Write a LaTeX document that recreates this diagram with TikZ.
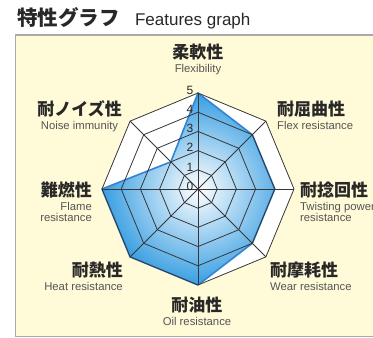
\documentclass[tikz,border=0pt]{standalone}
\usepackage{fontspec}
\setmainfont{Liberation Sans}
\newfontfamily\jp{Noto Sans CJK JP}
\usetikzlibrary{positioning}
\definecolor{panelbg}{RGB}{255,250,215}
\definecolor{panelborder}{RGB}{170,170,170}
\definecolor{webgray}{RGB}{55,55,55}
\definecolor{polyblue}{RGB}{55,158,226}
\definecolor{polyline}{RGB}{52,132,212}
\definecolor{jptext}{RGB}{40,40,40}
\definecolor{entext}{RGB}{85,85,85}
\tikzset{
    %Define style for japanese labels
    jplabel/.style={
           inner sep=0pt,
           text=jptext,
           font=\jp\bfseries\fontsize{17}{17}\selectfont},
    %Define style for english labels
    enlabel/.style={
           inner sep=0pt,
           text=entext,
           font=\fontsize{11.3}{11}\selectfont},
    ticklabel/.style={
           inner sep=0pt,
           text=jptext,
           font=\fontsize{12}{12}\selectfont},
    % Define line styles
    webline/.style={
           draw=webgray,
           line width=0.8pt,
           line join=miter},
    dataline/.style={
           draw=polyline,
           line width=1.6pt,
           line join=round}
}
\begin{document}
\begin{tikzpicture}[x=1pt,y=1pt]
\useasboundingbox (-198,-149) rectangle (175,189);
 %panel
\draw[fill=panelbg, draw=panelborder, line width=1.2pt] (-182.5,154) rectangle (190,-147.5);

\coordinate (c) at (0,0);
\foreach \a [count=\i] in {90,45,0,-45,-90,-135,180,135}
    \coordinate (v\i) at (\a:96);
\foreach \a/\v [count=\i] in {90/5,45/4,0/4,-45/4,-90/5,-135/5,180/5,135/2}
    \coordinate (d\i) at (\a:{\v*19.2});

 %white web and data area
\fill[white] (v1) \foreach \i in {2,...,8}{ -- (v\i)} -- cycle;
\begin{scope}
\clip (d1) \foreach \i in {2,...,8}{ -- (d\i)} -- cycle;
\shade[inner color=white, outer color=polyblue] (c) circle (96);
\end{scope}
\draw[dataline] (d1) \foreach \i in {2,...,8}{ -- (d\i)} -- cycle;

 %rings and spokes
\foreach \r in {1,...,5}
    \draw[webline] (90:{\r*19.2}) \foreach \a in {45,0,-45,-90,-135,180,135}{ -- (\a:{\r*19.2})} -- cycle;
\foreach \i in {1,...,8}
    \draw[webline] (c) -- (v\i);
\foreach \r in {0,...,5}
    \node[ticklabel] (t\r) at (-8,{\r*19.2+2.8}) {\r};

 %labels
\node[jplabel, font=\jp\bfseries\fontsize{20.5}{20.5}\selectfont, anchor=west] (title) at (-181,171) {特性グラフ};
\node[enlabel, font=\fontsize{17}{17}\selectfont, text=jptext, base right=15pt of title] (subtitle) {Features graph};

\node[jplabel] (jflex) at (0,137) {柔軟性};
\node[enlabel, below=3.5pt of jflex] (eflex) {Flexibility};
\node[jplabel] (jnoise) at (-118.5,80) {耐ノイズ性};
\node[enlabel, below=3.5pt of jnoise] (enoise) {Noise immunity};
\node[jplabel, anchor=west] (jbend) at (79,80) {耐屈曲性};
\node[enlabel, below=3.5pt of jbend.south west, anchor=north west] (ebend) {Flex resistance};
\node[jplabel, anchor=east] (jflame) at (-106,-1) {難燃性};
\node[enlabel, align=right, below=3.5pt of jflame.south east, anchor=north east] (eflame) {Flame\\resistance};
\node[jplabel, anchor=west] (jtwist) at (102,-1) {耐捻回性};
\node[enlabel, align=left, below=3.5pt of jtwist.south west, anchor=north west] (etwist) {Twisting power\\resistance};
\node[jplabel, anchor=east] (jheat) at (-75,-81) {耐熱性};
\node[enlabel, below=3.5pt of jheat.south east, anchor=north east] (eheat) {Heat resistance};
\node[jplabel, anchor=west] (jwear) at (72,-81) {耐摩耗性};
\node[enlabel, below=3.5pt of jwear.south west, anchor=north west] (ewear) {Wear resistance};
\node[jplabel] (joil) at (-1,-116) {耐油性};
\node[enlabel, below=3.5pt of joil] (eoil) {Oil resistance};
\end{tikzpicture}
\end{document}
